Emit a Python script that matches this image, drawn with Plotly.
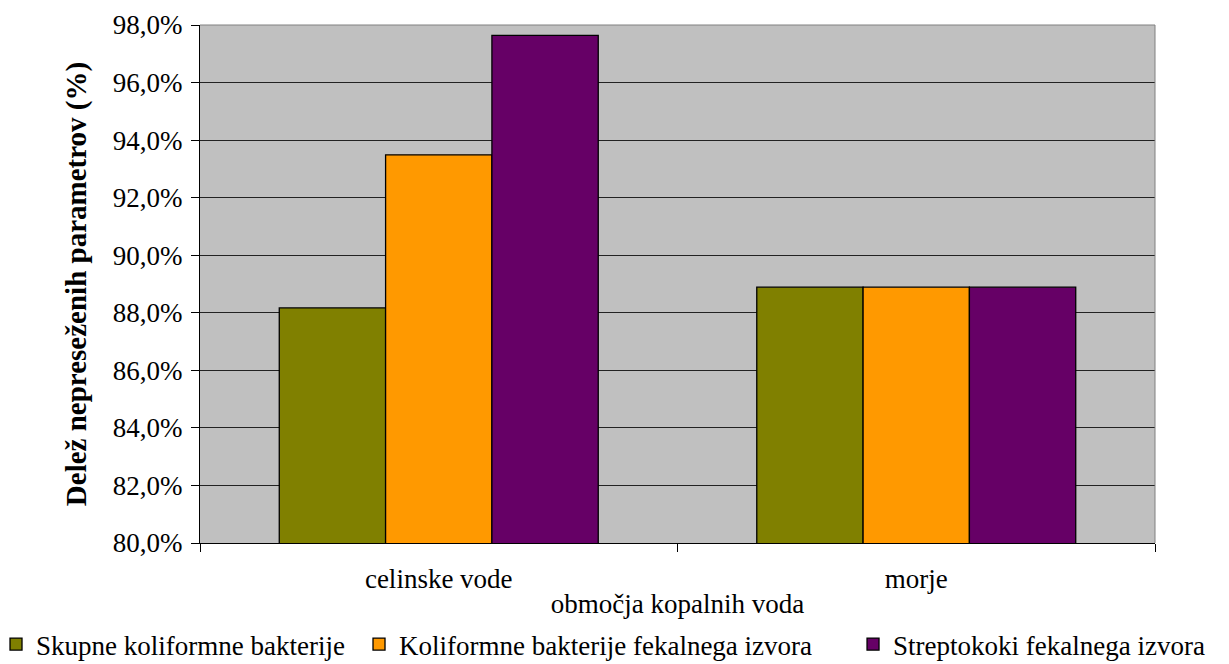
import plotly.graph_objects as go

categories = ["celinske vode", "morje"]
series_names = ["Skupne koliformne bakterije", "Koliformne bakterije fekalnega izvora", "Streptokoki fekalnega izvora"]
skupne = [88.17, 88.89]
koliformne = [93.49, 88.89]
streptokoki = [97.64, 88.89]
colors = ["#808000", "#FF9900", "#660066"]
y_ticks = [80, 82, 84, 86, 88, 90, 92, 94, 96, 98]
y_tick_labels = ["80,0%", "82,0%", "84,0%", "86,0%", "88,0%", "90,0%", "92,0%", "94,0%", "96,0%", "98,0%"]

legend_ids = ["legend", "legend2", "legend3"]
legend_x = [-0.2136, 0.1665, 0.6838]

fig = go.Figure()
for name, vals, col, lg in zip(series_names, [skupne, koliformne, streptokoki], colors, legend_ids):
    fig.add_trace(go.Bar(x=categories, y=vals, name=name, legend=lg,
                         marker=dict(color=col, line=dict(color="black", width=1.3))))

font_family = "Liberation Serif, Times New Roman, serif"
fs = 27
legend_common = dict(orientation="h", xanchor="left", y=-0.196, yanchor="middle",
                     font=dict(size=fs, family=font_family), itemwidth=30,
                     bgcolor="rgba(0,0,0,0)")
fig.update_layout(
    width=1229, height=664,
    margin=dict(l=200, r=74, t=25, b=121, autoexpand=False),
    paper_bgcolor="white", plot_bgcolor="#C0C0C0",
    barmode="group", bargap=0.332, bargroupgap=0,
    font=dict(family=font_family, size=fs, color="black"),
    showlegend=True,
    legend=dict(x=legend_x[0], **legend_common),
    legend2=dict(x=legend_x[1], **legend_common),
    legend3=dict(x=legend_x[2], **legend_common),
)
fig.update_yaxes(range=[80, 98], tickvals=y_ticks, ticktext=y_tick_labels,
                 showgrid=True, gridcolor="#222222", gridwidth=1,
                 showline=True, linecolor="black", linewidth=1, mirror=False,
                 ticks="outside", ticklen=8, tickcolor="black", ticklabelstandoff=3,
                 title=dict(text="<b>Delež nepreseženih parametrov (%)</b>", font=dict(size=29, family=font_family), standoff=17),
                 zeroline=False, tickfont=dict(size=fs, family=font_family))
fig.update_xaxes(showline=True, linecolor="black", linewidth=1,
                 ticks="outside", ticklen=8, tickcolor="black", tickson="boundaries",
                 ticklabelstandoff=12,
                 title=dict(text="območja kopalnih voda", font=dict(size=fs, family=font_family), standoff=0),
                 tickfont=dict(size=fs, family=font_family))
# plot-area border on top and right (gray)
fig.add_shape(type="line", xref="paper", yref="paper", x0=0, x1=1, y0=1, y1=1, line=dict(color="#808080", width=1))
fig.add_shape(type="line", xref="paper", yref="paper", x0=1, x1=1, y0=0, y1=1, line=dict(color="#808080", width=1))

fig.write_html("out.html")
